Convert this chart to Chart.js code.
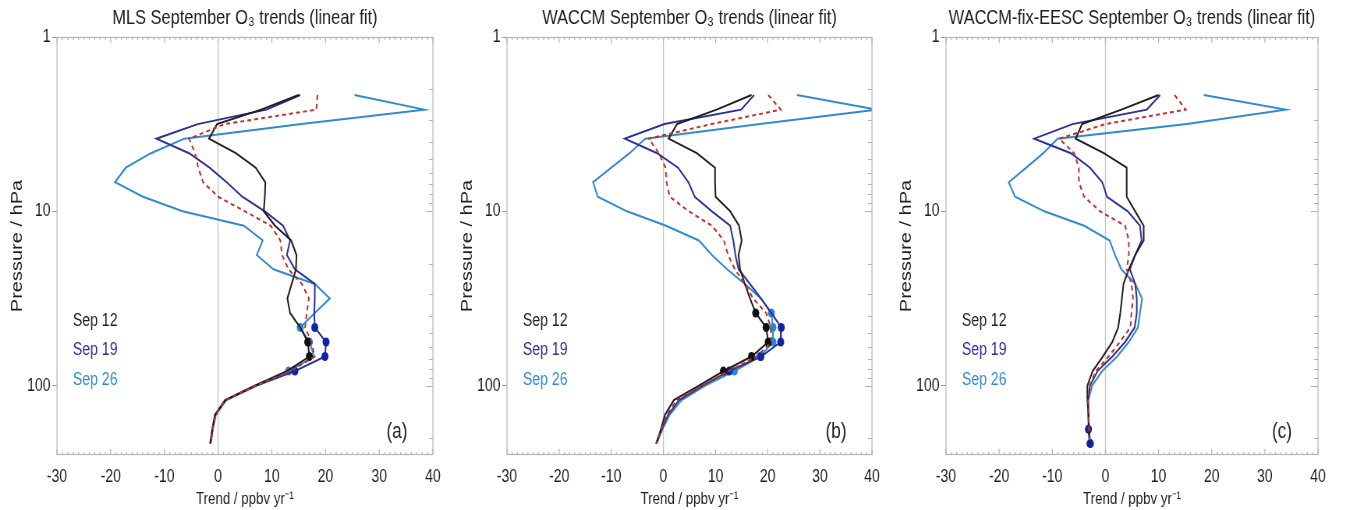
<!DOCTYPE html>
<html>
<head>
<meta charset="utf-8">
<script src="https://cdn.jsdelivr.net/npm/chart.js@4.4.1/dist/chart.umd.min.js"></script>
<style>
  body { margin: 0; background: #fff; width: 1347px; height: 510px; position: relative; overflow: hidden; }
  .panel { position: absolute; top: 0; transform-origin: 0 0; }
  .panel canvas { display: block; }
</style>
</head>
<body>
<div class="panel" style="left:0px"><canvas id="panelA" height="510"></canvas></div>
<div class="panel" style="left:450px"><canvas id="panelB" height="510"></canvas></div>
<div class="panel" style="left:889px"><canvas id="panelC" height="510"></canvas></div>
<script>
// data (trend in ppbv/yr at each pressure level in hPa)

const pressureLevels = [2.15, 2.61, 3.16, 3.83, 4.64, 5.62, 6.81, 8.25, 10, 12.1, 14.7, 17.8,
  21.5, 26.1, 31.6, 38.3, 46.4, 56.2, 68.1, 82.5, 100, 121, 147, 178, 215];
const legendLabels = ['Sep 12', 'Sep 19', 'Sep 26'];
const xTickValues = [-30, -20, -10, 0, 10, 20, 30, 40];
const yTickValues = [1, 10, 100];
const panelTitles = ['MLS September O\u2083 trends (linear fit)',
  'WACCM September O\u2083 trends (linear fit)',
  'WACCM-fix-EESC September O\u2083 trends (linear fit)'];
const panelTags = ['(a)', '(b)', '(c)'];

// (a) MLS
const mlsSep12 = [15.0, 8.0, -0.2, -1.7, 3.3, 7.0, 8.8, 8.7, 8.5, 10.6, 13.6, 14.6, 14.5, 13.7, 12.9, 13.4, 15.3, 16.7, 17.0, 12.8, 6.8, 1.3, -0.6, -1.1, -1.5];
const mlsSep19 = [15.3, 9.0, -3.8, -11.5, -5.4, -1.6, 1.6, 4.5, 8.7, 12.1, 13.4, 12.8, 14.3, 18.0, 18.0, 17.9, 18.0, 20.1, 19.9, 14.3, 7.2, 1.5, -0.5, -1.0, -1.4];
const mlsSep26 = [25.4, 38.4, 15.5, -6.3, -12.5, -17.2, -19.2, -14.0, -6.6, 4.8, 8.3, 7.2, 10.3, 18.0, 20.8, 18.0, 15.3, 17.0, 17.9, 13.1, 7.0, 1.4, -0.4, -1.0, -1.4];
const mlsDashed = [18.5, 18.3, 1.2, -5.4, -4.3, -3.7, -2.8, 0.0, 5.0, 9.8, 11.6, 11.9, 13.1, 15.6, 16.9, 16.5, 16.2, 17.4, 18.0, 13.5, 7.0, 1.4, -0.5, -1.0, -1.4];
const mlsSig12 = [56.2, 68.1];
const mlsSig19 = [46.4, 56.2, 68.1, 82.5];
const mlsSig26 = [46.4, 56.2, 82.5];

// (b) WACCM
const waccmSep12 = [16.9, 10.2, 2.6, 1.0, 6.4, 9.9, 9.9, 10.0, 12.8, 14.5, 15.0, 14.4, 14.7, 15.6, 16.6, 17.7, 19.7, 20.1, 16.9, 11.5, 6.8, 2.0, 0.3, -0.5, -1.4];
const waccmSep19 = [17.4, 14.9, 0.2, -7.4, -1.2, 2.8, 4.8, 6.0, 9.3, 12.8, 13.4, 13.8, 14.4, 16.6, 18.7, 20.7, 22.6, 22.5, 18.7, 12.6, 7.5, 3.0, 0.9, -0.3, -1.4];
const waccmSep26 = [25.6, 41.0, 18.5, -3.5, -6.5, -10.0, -13.5, -12.6, -7.0, 0.5, 6.8, 9.3, 12.2, 15.6, 18.7, 20.7, 21.0, 21.0, 18.5, 13.6, 8.0, 3.5, 1.2, -0.2, -1.3];
const waccmDashed = [20.1, 22.5, 9.2, -2.8, -0.9, 0.4, 0.6, 1.2, 4.9, 9.3, 11.6, 12.4, 13.7, 15.6, 17.2, 19.7, 20.6, 20.7, 17.9, 12.5, 7.3, 2.5, 0.7, -0.4, -1.4];
const waccmSig12 = [38.3, 46.4, 56.2, 68.1, 82.5];
const waccmSig19 = [46.4, 56.2, 68.1, 82.5];
const waccmSig26 = [38.3, 46.4, 56.2, 68.1, 82.5];

// (c) WACCM-fix-EESC
const fixSep12 = [10.0, 3.0, -4.4, -5.6, -0.3, 4.0, 4.0, 4.0, 5.6, 7.2, 7.2, 5.6, 4.4, 3.4, 3.1, 2.8, 2.4, 1.3, -0.5, -2.4, -3.4, -3.4, -3.2, -3.1, -3.0];
const fixSep19 = [10.3, 7.8, -6.2, -13.4, -6.5, -2.9, -0.6, 0.3, 4.2, 6.5, 6.8, 5.6, 4.6, 5.6, 5.9, 5.9, 5.5, 3.7, 1.3, -1.5, -2.9, -3.3, -3.2, -3.2, -2.9];
const fixSep26 = [18.5, 33.9, 15.3, -9.0, -11.7, -14.9, -18.2, -17.0, -11.5, -4.0, 0.8, 1.8, 3.0, 5.6, 6.9, 6.5, 6.1, 4.4, 2.2, -0.6, -2.5, -3.2, -3.2, -3.1, -2.8];
const fixDashed = [13.0, 15.1, 0.0, -8.7, -5.9, -5.0, -5.0, -4.0, -1.0, 3.7, 4.4, 4.4, 4.0, 4.9, 5.2, 4.9, 4.7, 2.7, 0.6, -1.8, -3.0, -3.3, -3.2, -3.1, -3.0];
const fixSig12 = [];
const fixSig19 = [178, 215];
const fixSig26 = [215];

// layout and styles
// the figure is narrow in x, so each chart is drawn wider and squeezed with css
const squeeze = 0.78;
const yAxisWidth = 57;              // screen px, left of the plot area
const plotWidths = [379, 368, 375]; // screen px
const rightPad = 13;

const textFont = '"Liberation Sans", Arial, sans-serif';
const lineColors = ['#1e1e1e', '#2e2e9a', '#2f8ad0'];
const dotColors = ['#111111', '#1024a8', '#2a88d0'];
const dashColor = '#c0302c';

function makeSet(values, sig, color, dotColor, order, dashed) {
  return {
    data: values.map((v, i) => ({ x: v, y: pressureLevels[i] })),
    showLine: true,
    borderColor: color,
    borderWidth: 2,
    borderDash: dashed ? [5, 4] : [],
    pointRadius: ctx => sig.includes(pressureLevels[ctx.dataIndex]) ? 4.5 : 0,
    pointBackgroundColor: dotColor,
    pointBorderWidth: 0,
    tension: 0,
    order: order
  };
}

const framePlugin = {
  id: 'frame',
  beforeDatasetsDraw(chart) {
    const { ctx, chartArea: a, scales: { x } } = chart;
    const x0 = x.getPixelForValue(0);
    ctx.save();
    ctx.strokeStyle = '#c2c2c2';
    ctx.lineWidth = 1.3;
    ctx.beginPath();
    ctx.moveTo(x0, a.top);
    ctx.lineTo(x0, a.bottom);
    ctx.stroke();
    ctx.restore();
  },
  afterDraw(chart, args, opts) {
    const { ctx, chartArea: a, scales: { x, y } } = chart;
    const k = 1 / squeeze;
    ctx.save();
    ctx.strokeStyle = '#b4b4b4';
    ctx.lineWidth = 1.2;
    ctx.strokeRect(a.left, a.top + 0.5, a.right - a.left, a.bottom - a.top - 1);
    ctx.beginPath();
    for (let v = x.min; v <= x.max; v++) {
      const px = x.getPixelForValue(v);
      const len = v % 10 === 0 ? 6 : 3;
      ctx.moveTo(px, a.top); ctx.lineTo(px, a.top + len);
      ctx.moveTo(px, a.bottom); ctx.lineTo(px, a.bottom - len);
    }
    for (let d = 1; d <= 100; d *= 10) {
      for (let m = 1; m <= 9; m++) {
        const p = d * m;
        if (p >= y.max || p <= y.min) continue;
        const py = Math.round(y.getPixelForValue(p)) + 0.5;
        const len = (m === 1 ? 7 : 4) * k;
        ctx.moveTo(a.right, py); ctx.lineTo(a.right - len, py);
      }
    }
    ctx.stroke();

    ctx.textBaseline = 'middle';
    ctx.textAlign = 'left';
    ctx.font = '18px ' + textFont;
    for (let i = 0; i < legendLabels.length; i++) {
      ctx.fillStyle = lineColors[i];
      ctx.fillText(legendLabels[i], a.left + 16 * k, a.top + 284 + i * 29.5);
    }
    ctx.textAlign = 'center';
    ctx.fillStyle = '#1e1e1e';
    ctx.font = '22px ' + textFont;
    ctx.fillText(opts.tag, a.right - 36 * k, a.top + 395);
    ctx.restore();
  }
};

function makePanel(id, n, s12, s19, s26, dashed, sig12, sig19, sig26) {
  const canvas = document.getElementById(id);
  const k = 1 / squeeze;
  canvas.width = Math.round((yAxisWidth + plotWidths[n] + rightPad) * k);
  canvas.parentNode.style.transform = 'scaleX(' + squeeze + ')';
  const padRight = canvas.width - yAxisWidth * k - plotWidths[n] * k;
  return new Chart(canvas, {
    type: 'scatter',
    data: {
      datasets: [
        makeSet(s26, sig26, lineColors[2], dotColors[2], 3, false),
        makeSet(s19, sig19, lineColors[1], dotColors[1], 2, false),
        makeSet(s12, sig12, lineColors[0], dotColors[0], 1, false),
        makeSet(dashed, [], dashColor, dashColor, 0, true)
      ]
    },
    options: {
      responsive: false,
      animation: false,
      devicePixelRatio: 1,
      layout: { padding: { left: 0, right: padRight, top: 0, bottom: 0 } },
      plugins: {
        legend: { display: false },
        tooltip: { enabled: false },
        title: {
          display: true, text: panelTitles[n], fullSize: false, color: '#1e1e1e',
          font: { family: textFont, size: 21, weight: 'normal', lineHeight: 1.2 },
          padding: { top: 6, bottom: 5.8 }
        },
        frame: { tag: panelTags[n] }
      },
      scales: {
        x: {
          type: 'linear', min: -30, max: 40,
          afterBuildTicks: s => { s.ticks = xTickValues.map(v => ({ value: v })); },
          afterFit: s => { s.height = 55; },
          grid: { display: false, drawTicks: false },
          border: { display: false },
          ticks: { padding: 11, color: '#1e1e1e', maxRotation: 0, autoSkip: false,
            font: { family: textFont, size: 18 } },
          title: { display: true, text: 'Trend / ppbv yr\u207B\u00B9', color: '#1e1e1e',
            font: { family: textFont, size: 17 }, padding: { top: 0, bottom: 0 } }
        },
        y: {
          type: 'logarithmic', reverse: true, min: 1, max: 250,
          afterBuildTicks: s => { s.ticks = yTickValues.map(v => ({ value: v })); },
          afterFit: s => { s.width = yAxisWidth * k; },
          grid: { drawOnChartArea: false, drawTicks: true, tickLength: 5 * k, tickColor: '#9a9a9a' },
          border: { display: false },
          ticks: { padding: 1.5 * k, color: '#1e1e1e', autoSkip: false, callback: v => String(v),
            font: { family: textFont, size: 18 } },
          title: { display: true, text: 'Pressure / hPa', color: '#1e1e1e',
            font: { family: textFont, size: 20 }, padding: { top: 10, bottom: 0 } }
        }
      }
    },
    plugins: [framePlugin]
  });
}

makePanel('panelA', 0, mlsSep12, mlsSep19, mlsSep26, mlsDashed, mlsSig12, mlsSig19, mlsSig26);
makePanel('panelB', 1, waccmSep12, waccmSep19, waccmSep26, waccmDashed, waccmSig12, waccmSig19, waccmSig26);
makePanel('panelC', 2, fixSep12, fixSep19, fixSep26, fixDashed, fixSig12, fixSig19, fixSig26);
</script>
</body>
</html>
